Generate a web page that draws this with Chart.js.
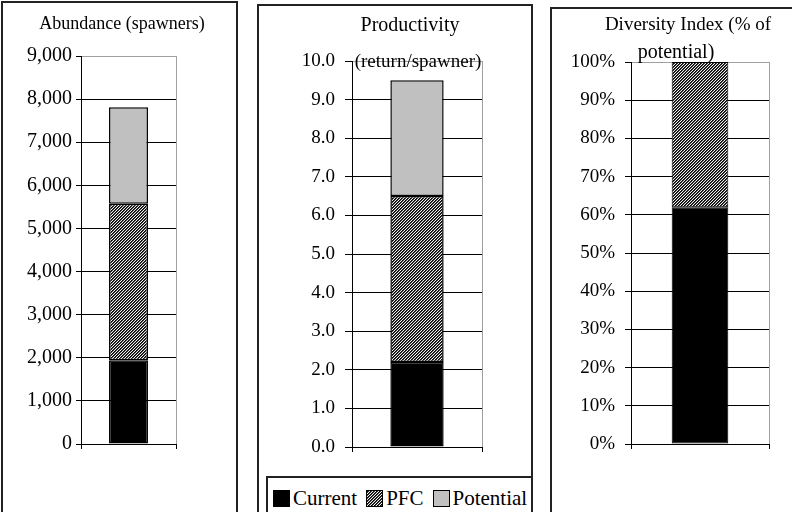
<!DOCTYPE html>
<html>
<head>
<meta charset="utf-8">
<script src="https://cdn.jsdelivr.net/npm/chart.js@4.4.1/dist/chart.umd.min.js"></script>
<style>
  body { margin: 0; background: #fff; }
  #page { position: relative; width: 792px; height: 512px; overflow: hidden; font-family: "Liberation Serif", "Times New Roman", serif; color: #000; }
  .panel { position: absolute; border: 2px solid #222; box-sizing: border-box; }
  .chartbox { position: absolute; }
  .title { position: absolute; white-space: nowrap; transform: translateX(-50%); line-height: 1; font-size: 19px; }
  #legend { position: absolute; left: 266px; top: 476px; width: 267px; height: 60px; border: 2px solid #222; box-sizing: border-box; display: flex; align-items: flex-start; padding: 10px 0 0 5px; font-size: 21px; line-height: 1; white-space: nowrap; }
  .item { display: flex; align-items: center; margin-right: 9px; }
  .sw { width: 17px; height: 17px; margin-right: 3px; box-sizing: border-box; border: 1px solid #000; }
</style>
</head>
<body>
<div id="page">
  <div class="panel" style="left:1px; top:1px; width:237px; height:600px;"></div>
  <div class="panel" style="left:257px; top:4px; width:276px; height:600px;"></div>
  <div class="panel" style="left:550px; top:7px; width:260px; height:600px;"></div>

  <div class="chartbox" style="left:0px; top:0px; width:240px; height:470px;"><canvas id="c1"></canvas></div>
  <div class="chartbox" style="left:260px; top:0px; width:272px; height:470px;"><canvas id="c2"></canvas></div>
  <div class="chartbox" style="left:553px; top:0px; width:239px; height:470px;"><canvas id="c3"></canvas></div>

  <div class="title" style="left:122px; top:14px; font-size:18px;">Abundance (spawners)</div>
  <div class="title" style="left:410px; top:14px; font-size:20px;">Productivity</div>
  <div class="title" style="left:418px; top:51px;">(return/spawner)</div>
  <div class="title" style="left:688px; top:14px;">Diversity Index (% of</div>
  <div class="title" style="left:676px; top:41px; font-size:20px;">potential)</div>

  <div id="legend"></div>
</div>
<script>
const categories = [''];
const seriesNames = ['Current', 'PFC', 'Potential'];

// stacked pieces: Current, gain to PFC, gain to Potential
const abundanceValues = [1940, 3630, 2240];
const productivityValues = [2.2, 4.3, 3.0];
const diversityValues = [62, 38, 0];

const abundanceTicks = [0, 1000, 2000, 3000, 4000, 5000, 6000, 7000, 8000, 9000];
const productivityTicks = [0, 1, 2, 3, 4, 5, 6, 7, 8, 9, 10];
const diversityTicks = [0, 10, 20, 30, 40, 50, 60, 70, 80, 90, 100];

const fontFamily = '"Liberation Serif", "Times New Roman", serif';

// fine diagonal hatch for PFC (3px period)
const tile = document.createElement('canvas');
tile.width = 3;
tile.height = 3;
const tg = tile.getContext('2d');
const shades = ['#000', '#404040', '#f0f0f0'];
for (let y = 0; y < 3; y++) {
  for (let x = 0; x < 3; x++) {
    tg.fillStyle = shades[(x + y) % 3];
    tg.fillRect(x, y, 1, 1);
  }
}
const hatch = tg.createPattern(tile, 'repeat');
const fills = ['#000000', hatch, '#c0c0c0'];

// legend (html)
const legend = document.getElementById('legend');
seriesNames.forEach((name, i) => {
  const item = document.createElement('div');
  item.className = 'item';
  const sw = document.createElement('span');
  sw.className = 'sw';
  if (i === 1) sw.style.background = `url(${tile.toDataURL()})`;
  else sw.style.background = fills[i];
  item.appendChild(sw);
  item.appendChild(document.createTextNode(name));
  legend.appendChild(item);
});

function makePanel(id, values, ticks, fmt, p) {
  const max = ticks[ticks.length - 1];
  new Chart(document.getElementById(id), {
    type: 'bar',
    data: {
      labels: categories,
      datasets: seriesNames.map((name, i) => ({
        label: name,
        data: [values[i]],
        backgroundColor: fills[i],
        borderColor: '#000',
        borderWidth: p.bw,
        borderSkipped: false,
        barPercentage: 0.41,
        categoryPercentage: 1
      }))
    },
    options: {
      responsive: true,
      maintainAspectRatio: false,
      animation: false,
      layout: { padding: { left: 0, right: p.right, top: p.top, bottom: 0 } },
      plugins: {
        legend: { display: false },
        tooltip: { enabled: false },
        title: { display: false }
      },
      scales: {
        x: {
          stacked: true,
          ticks: { display: false },
          grid: {
            offset: true,
            color: c => c.index === 0 ? '#000' : '#a0a0a0',
            tickColor: '#000',
            tickLength: 5
          },
          border: { color: '#000', width: 1 },
          afterFit: s => { s.height = p.xh; }
        },
        y: {
          stacked: true,
          min: ticks[0],
          max: max,
          ticks: {
            stepSize: ticks[1] - ticks[0],
            callback: fmt,
            color: '#000',
            padding: p.pad,
            font: { family: fontFamily, size: p.fs }
          },
          grid: {
            color: c => (c.tick && c.tick.value === max) ? '#a0a0a0' : '#000',
            tickColor: '#000',
            tickLength: p.tl
          },
          border: { color: '#000', width: 1 },
          afterFit: s => { s.width = p.yw; }
        }
      }
    }
  });
}

makePanel('c1', abundanceValues, abundanceTicks, v => v.toLocaleString('en-US'),
  { right: 64, top: 56, xh: 26, yw: 81, tl: 5, pad: 4, bw: 1.5, fs: 20 });
makePanel('c2', productivityValues, productivityTicks, v => v.toFixed(1),
  { right: 50, top: 61, xh: 23, yw: 92, tl: 7, pad: 10, bw: 1.5, fs: 19 });
makePanel('c3', diversityValues, diversityTicks, v => v + '%',
  { right: 23, top: 62, xh: 26, yw: 78, tl: 6, pad: 10, bw: 1, fs: 19 });
</script>
</body>
</html>
